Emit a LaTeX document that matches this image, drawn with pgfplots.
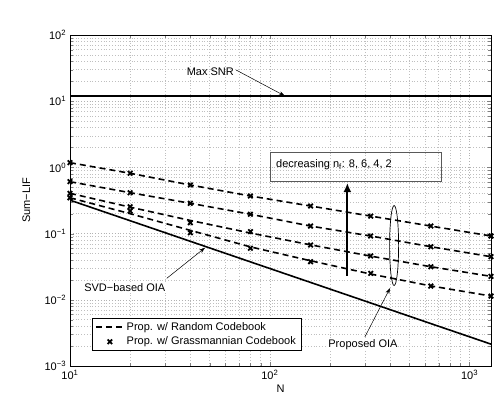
\documentclass[border=0pt]{standalone}
\usepackage{fontspec}
\setmainfont{Liberation Sans}
\usepackage{pgfplots}
\pgfplotsset{compat=1.18}
\usetikzlibrary{arrows.meta}
\tikzset{rnd/.style={black, line width=1.6pt, dash pattern=on 6pt off 4pt},
  grs/.style={black, only marks, mark=x, mark size=3.2pt, mark options={line width=1.8pt, solid}}}
\pgfplotsset{rndlegend/.style={legend image code/.code={\draw[rnd] (0pt,0pt) -- (28pt,0pt);}},
  grslegend/.style={legend image code/.code={\draw[mark repeat=2, mark phase=2, ##1] plot coordinates {(0pt,0pt) (14pt,0pt) (28pt,0pt)};}}}
\begin{document}
\fontsize{11}{13}\selectfont
\begin{tikzpicture}
\begin{axis}[at={(0,0)}, anchor=south west, scale only axis, width=421pt, height=331pt,
  xmode=log, ymode=log, xmin=10, xmax=1280, ymin=1e-3, ymax=1e2,
  xtick={10,100,1000}, xticklabels={10\textsuperscript{1},10\textsuperscript{2},10\textsuperscript{3}},
  ytick={1e-3,1e-2,1e-1,1,10,100},
  yticklabels={10\textsuperscript{−3},10\textsuperscript{−2},10\textsuperscript{−1},10\textsuperscript{0},10\textsuperscript{1},10\textsuperscript{2}},
  tick pos=both, tick align=inside, grid=both,
  major grid style={line width=0.5pt, dash pattern=on 0.6pt off 2.2pt, gray!60},
  minor grid style={line width=0.5pt, dash pattern=on 0.6pt off 2.2pt, gray!50},
  xlabel={N}, ylabel={Sum−LIF},
  xlabel style={at={(axis description cs:0.5,-0.045)}, anchor=north},
  ylabel style={at={(axis description cs:-0.085,0.5)}, anchor=south},
  legend style={at={(rel axis cs:0.052,0.046)}, anchor=south west, draw=black, fill=white, font=\fontsize{11}{13}\selectfont, row sep=1pt, cells={anchor=west}},
  legend cell align=left]
% Max SNR
\addplot[black, line width=1.6pt, forget plot] coordinates {(10,12) (1280,12)};
% SVD-based OIA
\addplot[black, line width=1.6pt, forget plot] coordinates {(10,0.32) (20,0.1565) (40,0.0765) (80,0.0374) (160,0.0183) (320,0.00895) (640,0.00437) (1280,0.00214)};
% Random codebook (dashed)
\addplot[rnd, rndlegend] coordinates {(10,1.178) (20,0.815) (40,0.542) (80,0.370) (160,0.261) (320,0.184) (640,0.130) (1280,0.092)};
\addlegendentry{Prop. w/ Random Codebook}
\addplot[rnd, forget plot] coordinates {(10,0.608) (20,0.415) (40,0.287) (80,0.196) (160,0.130) (320,0.092) (640,0.0634) (1280,0.0448)};
\addplot[rnd, forget plot] coordinates {(10,0.406) (20,0.251) (40,0.158) (80,0.102) (160,0.0676) (320,0.0457) (640,0.0316) (1280,0.0226)};
\addplot[rnd, forget plot] coordinates {(10,0.348) (20,0.200) (40,0.112) (80,0.063) (160,0.0389) (320,0.0245) (640,0.0162) (1280,0.0114)};
% Grassmannian codebook (markers)
\addplot[grs, grslegend] coordinates {(10,1.178) (20,0.815) (40,0.542) (80,0.370) (160,0.261) (320,0.184) (640,0.130) (1280,0.092)};
\addlegendentry{Prop. w/ Grassmannian Codebook}
\addplot[grs, forget plot] coordinates {(10,0.608) (20,0.415) (40,0.287) (80,0.196) (160,0.130) (320,0.092) (640,0.0634) (1280,0.0448)};
\addplot[grs, forget plot] coordinates {(10,0.406) (20,0.255) (40,0.146) (80,0.107) (160,0.0673) (320,0.0459) (640,0.0316) (1280,0.0226)};
\addplot[grs, forget plot] coordinates {(10,0.348) (20,0.219) (40,0.103) (80,0.060) (160,0.0377) (320,0.0251) (640,0.0161) (1280,0.0114)};
% annotations
\node[anchor=east, inner sep=1pt] at (axis cs:67,27.6) {Max SNR};
\draw[-{Stealth[length=6pt,width=4pt]}, line width=0.5pt] (axis cs:67.8,29.6) -- (axis cs:119,12);
\draw[gray!70!black, line width=0.6pt] (axis cs:101,1.667) rectangle (axis cs:724,0.608);
\node[anchor=west, inner sep=0pt] at (axis cs:107.4,1.087) {decreasing n\textsubscript{f}: 8, 6, 4, 2};
\draw[-{Latex[length=9pt,width=8pt]}, line width=2pt] (axis cs:244.5,0.0229) -- (axis cs:244.5,0.581);
\draw[line width=0.7pt] (axis cs:419,0.066) ellipse [x radius=4.5pt, y radius=40pt];
\draw[-{Stealth[length=6pt,width=4pt]}, line width=0.5pt] (axis cs:299,0.00274) -- (axis cs:400,0.01507);
\node[inner sep=1pt, fill=white] at (axis cs:292.6,0.00207) {Proposed OIA};
\draw[-{Stealth[length=6pt,width=4pt]}, line width=0.5pt] (axis cs:30.5,0.0211) -- (axis cs:47.4,0.0612);
\node[inner sep=1pt, fill=white] at (axis cs:18.8,0.0151) {SVD−based OIA};
\end{axis}
\pgfresetboundingbox
\path (-70pt,-33pt) rectangle (428pt,366pt);
\end{tikzpicture}
\end{document}
